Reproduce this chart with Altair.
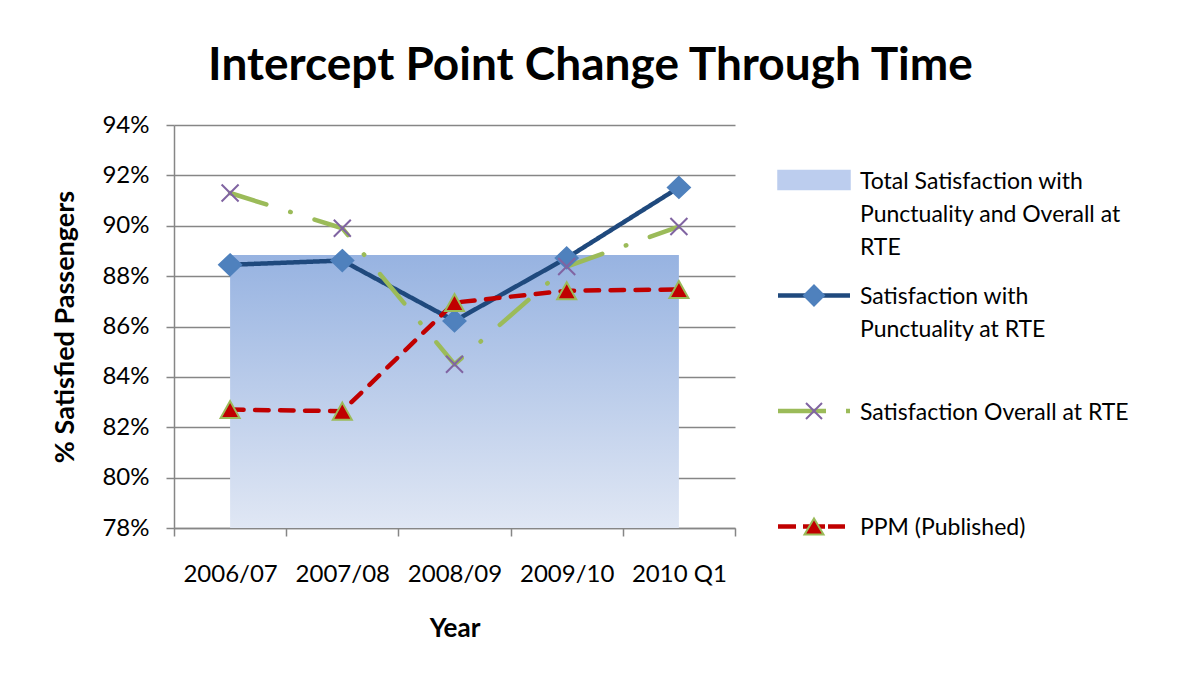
import json
import altair as alt
import pandas as pd

# ---------------- data ----------------
years = ["2006/07", "2007/08", "2008/09", "2009/10", "2010 Q1"]
total_satisfaction = [88.84, 88.84, 88.84, 88.84, 88.84]
punctuality = [88.45, 88.62, 86.22, 88.72, 91.52]
overall = [91.30, 89.90, 84.50, 88.38, 89.97]
ppm = [82.70, 82.64, 86.95, 87.42, 87.47]
y_ticks = [78, 80, 82, 84, 86, 88, 90, 92, 94]

S_TOTAL = "Total Satisfaction with Punctuality and Overall at RTE"
S_PUNCT = "Satisfaction with Punctuality at RTE"
S_OVER = "Satisfaction Overall at RTE"
S_PPM = "PPM (Published)"
series_names = [S_TOTAL, S_PUNCT, S_OVER, S_PPM]
line_series = [S_PUNCT, S_OVER, S_PPM]

legend_lines = {
    S_TOTAL: ["Total Satisfaction  with", "Punctuality and Overall at", "RTE"],
    S_PUNCT: ["Satisfaction  with", "Punctuality at RTE", ""],
    S_OVER: ["Satisfaction  Overall at RTE", "", ""],
    S_PPM: ["PPM (Published)", "", ""],
}

rows = []
for name, vals in [(S_TOTAL, total_satisfaction), (S_PUNCT, punctuality),
                   (S_OVER, overall), (S_PPM, ppm)]:
    for yr, v in zip(years, vals):
        rows.append({"year": yr, "series": name, "value": v})
df = pd.DataFrame(rows)

# ---------------- styles ----------------
FONT = "Lato"
GRID = "#868686"
line_colors = ["#1f497d", "#9bbb59", "#c00000"]
line_dashes = [[1, 0], [38, 25, 0.5, 25], [13.5, 11.5]]

marker_paths = [
    "M0,-1.05L1.1,0L0,1.05L-1.1,0Z",
    "M-0.85,-0.85L0.85,0.85M-0.85,0.85L0.85,-0.85",
    "M0,-0.85L0.95,0.85L-0.95,0.85Z",
]
marker_fill = ["#4f81bd", "transparent", "#c00000"]
marker_stroke = ["#4f81bd", "#8064a2", "#9bbb59"]

# legend symbols (unit = 2 px, shifted down to align with first text line)
legA_paths = [
    "M-17.25,0.75H17.25V8.75H-17.25Z",
    "M-18,4.75H18",
    "M-18,4.75H6M16,4.75H18",
    "M-18,4.75H-9M-5.5,4.75H5.5M7,4.75H15.5",
]
legA_stroke = ["#bccdee", "#1f497d", "#9bbb59", "#c00000"]
legA_fill = ["#bccdee", "transparent", "transparent", "transparent"]

legB_paths = [
    "M0,4.75L0,4.75",
    "M0,-0.25L5,4.75L0,9.75L-5,4.75Z",
    "M-4,0.75L4,8.75M-4,8.75L4,0.75",
    "M0,0.75L4.75,8.75L-4.75,8.75Z",
]
legB_fill = ["transparent", "#4f81bd", "transparent", "#c00000"]
legB_stroke = ["transparent", "#4f81bd", "#8064a2", "#9bbb59"]

label_expr = " : ".join(
    f"datum.value === '{k}' ? {json.dumps(v)}" for k, v in legend_lines.items()
) + " : datum.label"

def legend(label_opacity):
    return alt.Legend(
        orient="none", legendX=628.5, legendY=34, direction="vertical",
        title=None, padding=0, symbolSize=16,
        symbolStrokeWidth=4.5 if label_opacity else 2,
        symbolOpacity=1, labelExpr=label_expr, labelBaseline="top",
        labelFont=FONT, labelFontSize=23, labelColor="black",
        labelOpacity=label_opacity, labelLimit=600, labelOffset=34.5,
        symbolOffset=0, rowPadding=14.5,
    )

x_enc = alt.X(
    "year:N", sort=years,
    scale=alt.Scale(type="band", domain=years, paddingInner=0, paddingOuter=0),
    bandPosition=0.5,
    axis=alt.Axis(
        title="Year", tickBand="extent", grid=False, labelAngle=0,
        labelFont=FONT, labelFontSize=24, labelColor="black", labelPadding=26,
        tickSize=8, tickColor=GRID, tickWidth=1.5, domainColor=GRID, domainWidth=1.5,
        titleFont=FONT, titleFontSize=26, titleFontWeight="bold", titleColor="black",
        titleY=108, titleBaseline="alphabetic",
    ),
)
y_enc = alt.Y(
    "value:Q",
    scale=alt.Scale(domain=[78, 94], zero=False, nice=False),
    axis=alt.Axis(
        title="% Satisfied Passengers", values=y_ticks,
        labelExpr="datum.value + '%'",
        labelFont=FONT, labelFontSize=24, labelColor="black", labelPadding=17,
        tickSize=8, tickColor=GRID, tickWidth=1.5, domainColor=GRID, domainWidth=1.5,
        grid=True, gridColor=GRID, gridWidth=1.4,
        titleFont=FONT, titleFontSize=27, titleFontWeight="bold", titleColor="black",
        titleX=-101, titleY=201.5, titleBaseline="alphabetic",
    ),
)

base = alt.Chart(df)

area = base.transform_filter(alt.datum.series == S_TOTAL).mark_area(
    fill=alt.LinearGradient(
        gradient="linear",
        stops=[alt.GradientStop(color="#97b3e1", offset=0),
               alt.GradientStop(color="#e0e7f4", offset=1)],
        x1=0, x2=0, y1=0, y2=1,
    ),
    opacity=1,
).encode(x=x_enc, y=y_enc, y2=alt.datum(78))

lines = base.transform_filter(alt.datum.series != S_TOTAL).mark_line(
    strokeWidth=4.5, strokeCap="round", strokeJoin="round"
).encode(
    x=x_enc, y=y_enc,
    color=alt.Color("series:N", scale=alt.Scale(domain=line_series, range=line_colors), legend=None),
    strokeDash=alt.StrokeDash("series:N", scale=alt.Scale(domain=line_series, range=line_dashes), legend=None),
)

markers = base.transform_filter(alt.datum.series != S_TOTAL).mark_point(
    filled=True, opacity=1, size=400, strokeWidth=2
).encode(
    x=x_enc, y=y_enc,
    shape=alt.Shape("series:N", scale=alt.Scale(domain=line_series, range=marker_paths), legend=None),
    fill=alt.Fill("series:N", scale=alt.Scale(domain=line_series, range=marker_fill), legend=None),
    stroke=alt.Stroke("series:N", scale=alt.Scale(domain=line_series, range=marker_stroke), legend=None),
)

legA = legend(1)
leg_lines = base.transform_filter("false").mark_point(
    filled=True, opacity=1, size=16
).encode(
    x=x_enc, y=y_enc,
    shape=alt.Shape("series:N", scale=alt.Scale(domain=series_names, range=legA_paths), legend=legA),
    fill=alt.Fill("series:N", scale=alt.Scale(domain=series_names, range=legA_fill), legend=legA),
    stroke=alt.Stroke("series:N", scale=alt.Scale(domain=series_names, range=legA_stroke), legend=legA),
)

legB = legend(0)
leg_marks = base.transform_filter("false").mark_point(
    filled=True, opacity=1, size=16
).encode(
    x=x_enc, y=y_enc,
    shape=alt.Shape("series:N", scale=alt.Scale(domain=series_names, range=legB_paths), legend=legB),
    fill=alt.Fill("series:N", scale=alt.Scale(domain=series_names, range=legB_fill), legend=legB),
    stroke=alt.Stroke("series:N", scale=alt.Scale(domain=series_names, range=legB_stroke), legend=legB),
)

chart = alt.layer(area, lines, markers, leg_lines, leg_marks).resolve_scale(
    shape="independent", fill="independent", stroke="independent"
).resolve_legend(
    shape="independent", fill="independent", stroke="independent"
).properties(
    width=561, height=403,
    autosize=alt.AutoSizeParams(type="none"),
    padding={"left": 166, "top": 117, "right": 437, "bottom": 137},
    background="white",
    title=alt.Title(
        "Intercept Point Change Through Time", font=FONT, fontSize=46,
        fontWeight="bold", color="black", anchor="middle", frame="group",
        dx=136, offset=23,
    ),
).configure(
    style={"guide-label": {"lineHeight": 33}},
).configure_view(stroke=None)

chart.save("out.html", embed_options={"renderer": "svg", "actions": False})
